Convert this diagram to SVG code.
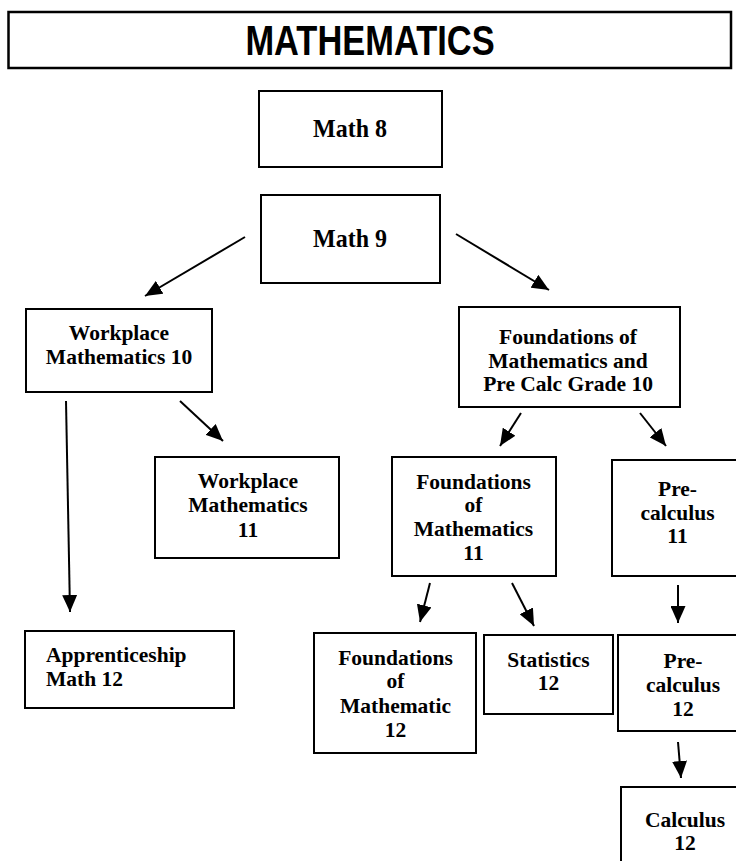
<svg xmlns="http://www.w3.org/2000/svg" width="736" height="861" viewBox="0 0 736 861">
<style>
.box{fill:#fff;stroke:#000;stroke-width:2}
.t{font-family:"Liberation Serif","Times New Roman",serif;font-weight:bold;font-size:21.5px;fill:#000;text-anchor:middle}
.ts{font-family:"Liberation Serif","Times New Roman",serif;font-weight:bold;font-size:21.5px;fill:#000;text-anchor:start}
.title{font-family:"Liberation Sans",Arial,sans-serif;font-weight:bold;font-size:42px;fill:#000;text-anchor:middle}
.c{stroke:#000;stroke-width:2;fill:none;marker-end:url(#ah)}
</style>
<defs>
<marker id="ah" markerUnits="userSpaceOnUse" markerWidth="17" markerHeight="15" viewBox="0 0 17 15" refX="17" refY="7.5" orient="auto">
<path d="M0,0 L17,7.5 L0,15 z" fill="#000"/>
</marker>
</defs>
<rect width="736" height="861" fill="#fff"/>
<g id="title">
<rect x="8.5" y="12" width="722.5" height="56" fill="#fff" stroke="#000" stroke-width="2.5"/>
<text class="title" transform="translate(370 0) scale(0.82 1)" x="0" y="55">MATHEMATICS</text>
</g>
<g id="math8">
<rect class="box" x="259" y="91" width="183" height="76"/>
<text class="t" style="font-size:25px" transform="translate(350 0) scale(0.96 1)" x="0" y="137">Math 8</text>
</g>
<g id="math9">
<rect class="box" x="261" y="195" width="179" height="88"/>
<text class="t" style="font-size:25px" transform="translate(350 0) scale(0.96 1)" x="0" y="247">Math 9</text>
</g>
<g id="wm10">
<rect class="box" x="26" y="309" width="186" height="83"/>
<text class="t" transform="translate(119 0)"><tspan x="0" y="340">Workplace</tspan><tspan x="0" y="364">Mathematics 10</tspan></text>
</g>
<g id="f10">
<rect class="box" x="459" y="307" width="221" height="100"/>
<text class="t" transform="translate(568 0)"><tspan x="0" y="344">Foundations of</tspan><tspan x="0" y="368">Mathematics and</tspan><tspan x="0" y="391">Pre Calc Grade 10</tspan></text>
</g>
<g id="wm11">
<rect class="box" x="155" y="457" width="184" height="101"/>
<text class="t" transform="translate(248 0)"><tspan x="0" y="488">Workplace</tspan><tspan x="0" y="512">Mathematics</tspan><tspan x="0" y="537">11</tspan></text>
</g>
<g id="fm11">
<rect class="box" x="392" y="457" width="164" height="119"/>
<text class="t" transform="translate(473.5 0)"><tspan x="0" y="489">Foundations</tspan><tspan x="0" y="512">of</tspan><tspan x="0" y="536">Mathematics</tspan><tspan x="0" y="560">11</tspan></text>
</g>
<g id="pre11">
<rect class="box" x="612" y="460" width="150" height="116"/>
<text class="t" transform="translate(677.5 0)"><tspan x="0" y="496">Pre-</tspan><tspan x="0" y="520">calculus</tspan><tspan x="0" y="543">11</tspan></text>
</g>
<g id="appr">
<rect class="box" x="25" y="631" width="209" height="77"/>
<text class="ts" transform="translate(46 0)"><tspan x="0" y="662">Apprenticeship</tspan><tspan x="0" y="686">Math 12</tspan></text>
</g>
<g id="fm12">
<rect class="box" x="314" y="633" width="162" height="120"/>
<text class="t" transform="translate(395.5 0)"><tspan x="0" y="665">Foundations</tspan><tspan x="0" y="688">of</tspan><tspan x="0" y="713">Mathematic</tspan><tspan x="0" y="737">12</tspan></text>
</g>
<g id="stats">
<rect class="box" x="484" y="635" width="129" height="79"/>
<text class="t" transform="translate(548.5 0)"><tspan x="0" y="667">Statistics</tspan><tspan x="0" y="690">12</tspan></text>
</g>
<g id="pre12">
<rect class="box" x="618" y="635" width="150" height="96"/>
<text class="t" transform="translate(683 0)"><tspan x="0" y="668">Pre-</tspan><tspan x="0" y="692">calculus</tspan><tspan x="0" y="716">12</tspan></text>
</g>
<g id="calc">
<rect class="box" x="621" y="787" width="150" height="100"/>
<text class="t" transform="translate(685 0)"><tspan x="0" y="827">Calculus</tspan><tspan x="0" y="850">12</tspan></text>
</g>
<g id="connectors">
<line class="c" x1="245" y1="237" x2="145" y2="296"/>
<line class="c" x1="456" y1="234" x2="549" y2="290"/>
<line class="c" x1="66" y1="401" x2="70" y2="612"/>
<line class="c" x1="180" y1="401" x2="223" y2="441"/>
<line class="c" x1="521" y1="413" x2="500" y2="446"/>
<line class="c" x1="640" y1="413" x2="666" y2="446"/>
<line class="c" x1="430" y1="583" x2="420" y2="622"/>
<line class="c" x1="512" y1="583" x2="534" y2="626"/>
<line class="c" x1="678" y1="585" x2="678" y2="623"/>
<line class="c" x1="678" y1="742" x2="681" y2="778"/>
</g>
</svg>
